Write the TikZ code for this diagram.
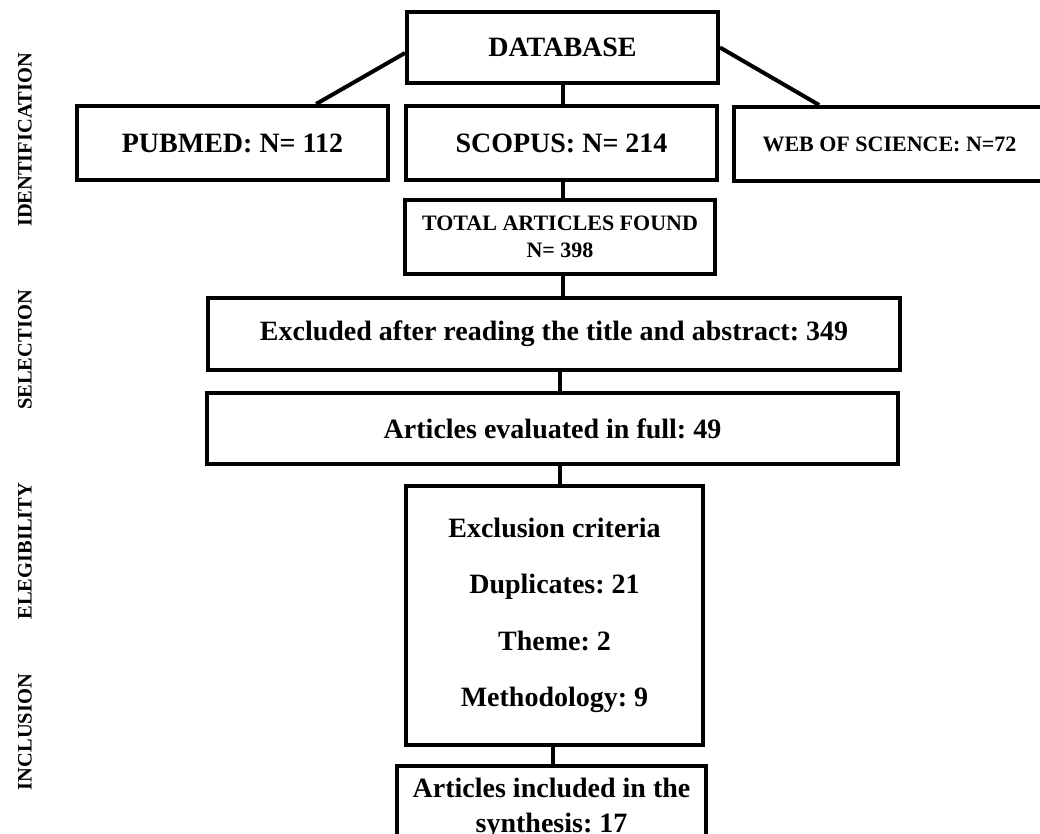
\documentclass[tikz,border=0pt]{standalone}
\usepackage{fontspec}
\setmainfont{Liberation Serif}
\frenchspacing

\begin{document}
\begin{tikzpicture}[x=1pt,y=-1pt,line width=4pt,
	box/.style={draw,rectangle,inner sep=2pt,align=center,font=\bfseries\fontsize{28}{35}\selectfont},
	smallbox/.style={box,font=\bfseries\fontsize{22}{27}\selectfont},
	phase/.style={rotate=90,inner sep=0pt,font=\bfseries\fontsize{20.5}{24}\selectfont}]
	\useasboundingbox (0,0) rectangle (1040,834);

	\node[box,minimum width=311pt,minimum height=71pt] (db) at (562.5,47.5) {DATABASE};
	\node[box,minimum width=311pt,minimum height=74pt] (pubmed) at (232.5,143) {PUBMED: N= 112};
	\node[box,minimum width=311pt,minimum height=74pt] (scopus) at (561.5,143) {SCOPUS: N= 214};
	\node[smallbox,minimum width=311pt,minimum height=74pt] (wos) at (889.5,144) {WEB OF SCIENCE: N=72};
	\node[smallbox,minimum width=310pt,minimum height=73pt] (total) at (560,237) {TOTAL ARTICLES FOUND\\N= 398};
	\node[box,minimum width=692pt,minimum height=72pt] (excl) at (554,334) {Excluded after reading the title and abstract: 349};
	\node[box,minimum width=691pt,minimum height=71pt] (full) at (552.5,428.5) {Articles evaluated in full: 49};
	\node[box,minimum width=297pt,minimum height=259pt,font=\bfseries\fontsize{28}{56.5}\selectfont] (crit) at (554.5,615.5)
		{Exclusion criteria\\Duplicates: 21\\Theme: 2\\Methodology: 9};
	\node[box,minimum width=309pt,minimum height=84pt,anchor=north] (incl) at (551.5,764)
		{Articles included in the\\synthesis: 17};

	\node[phase] (ident) at (25,140) {IDENTIFICATION};
	\node[phase] (select) at (25,350) {SELECTION};
	\node[phase] (elig) at (25,551) {ELEGIBILITY};
	\node[phase] (inclus) at (25,732) {INCLUSION};

	\draw (db.182) -- (pubmed.25);
	\draw (db.east) -- (wos.151);
	\draw (db.south) -- (db.south |- scopus.north);
	\draw (scopus.south -| db.south) -- (db.south |- total.north);
	\draw (total.south -| db.south) -- (db.south |- excl.north);
	\draw (excl.south -| 560,0) -- (full.north -| 560,0);
	\draw (full.south -| 560,0) -- (crit.north -| 560,0);
	\draw (crit.south -| 553,0) -- (incl.north -| 553,0);
\end{tikzpicture}
\end{document}
